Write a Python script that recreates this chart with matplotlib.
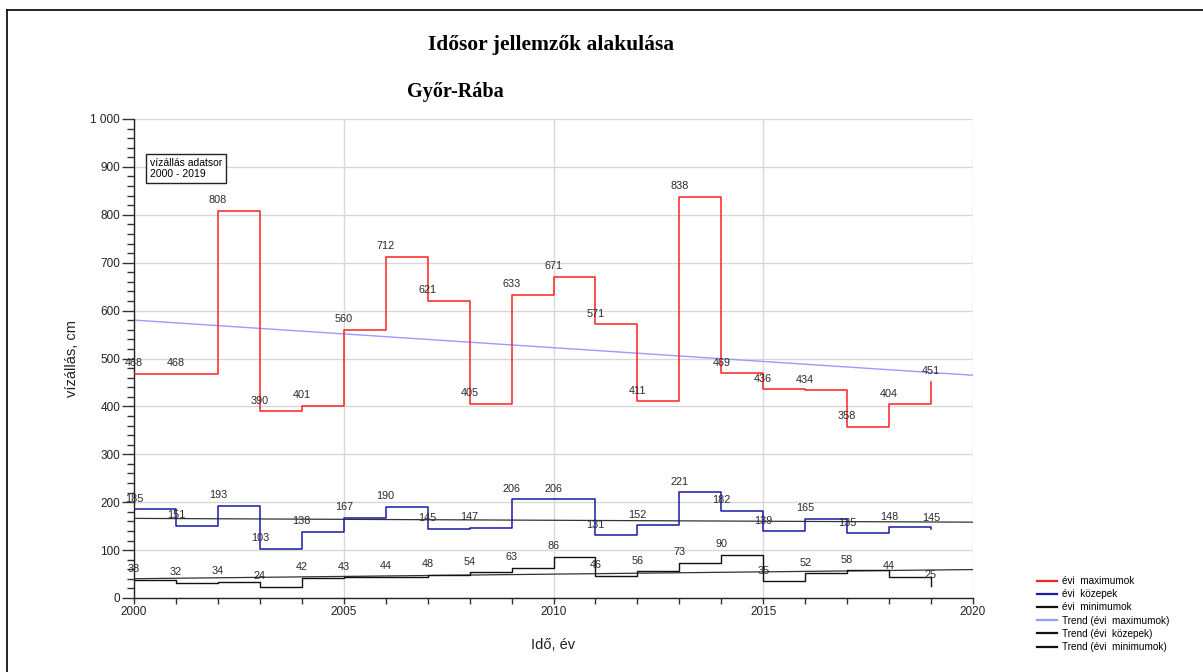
import numpy as np
import matplotlib
matplotlib.use('Agg')
import matplotlib.pyplot as plt
from matplotlib.ticker import MultipleLocator, FuncFormatter
from matplotlib.lines import Line2D

years = list(range(2000, 2020))
maximumok = [468, 468, 808, 390, 401, 560, 712, 621, 405, 633,
             671, 571, 411, 838, 469, 436, 434, 358, 404, 451]
kozepek = [185, 151, 193, 103, 138, 167, 190, 145, 147, 206,
           206, 131, 152, 221, 182, 139, 165, 135, 148, 145]
minimumok = [38, 32, 34, 24, 42, 43, 44, 48, 54, 63,
             86, 46, 56, 73, 90, 35, 52, 58, 44, 25]

plt.rcParams['font.family'] = ['Liberation Sans', 'DejaVu Sans']

fig = plt.figure(figsize=(12.03, 6.72), dpi=100)
W, H = 1203, 672
ax = fig.add_axes([134 / W, 1 - 598 / H, (973 - 134) / W, (598 - 119) / H])

x = np.array(years)
trend_x = np.array([2000, 2020])

def trend(vals):
    k, b = np.polyfit(x, vals, 1)
    return k * trend_x + b

c_max = '#ff2020'
c_koz = '#1a1aa6'
c_min = '#111111'
c_tmax = '#9a9aff'

ax.step(x, maximumok, where='post', color=c_max, lw=1.1, zorder=3)
ax.step(x, kozepek, where='post', color=c_koz, lw=1.1, zorder=3)
ax.step(x, minimumok, where='post', color=c_min, lw=1.0, zorder=3)
ax.plot(trend_x, trend(maximumok), color=c_tmax, lw=1.0, zorder=2)
ax.plot(trend_x, trend(kozepek), color='#333333', lw=0.9, zorder=2)
ax.plot(trend_x, trend(minimumok), color='#333333', lw=0.9, zorder=2)

for series in (maximumok, kozepek, minimumok):
    for yr, v in zip(years, series):
        ax.annotate(str(v), (yr, v), xytext=(0, 4), textcoords='offset points',
                    ha='center', va='bottom', fontsize=7.8, color='#2a2a2a',
                    zorder=4)

ax.set_xlim(2000, 2020)
ax.set_ylim(0, 1000)
ax.xaxis.set_major_locator(MultipleLocator(5))
ax.xaxis.set_minor_locator(MultipleLocator(1))
ax.yaxis.set_major_locator(MultipleLocator(100))
ax.yaxis.set_minor_locator(MultipleLocator(20))
ax.yaxis.set_major_formatter(FuncFormatter(
    lambda v, p: f'{int(v):,}'.replace(',', ' ')))

ax.grid(True, which='major', color='#d8d8d8', lw=1.0, zorder=0)
ax.set_axisbelow(True)
for s in ('top', 'right'):
    ax.spines[s].set_visible(False)
for s in ('left', 'bottom'):
    ax.spines[s].set_color('#222222')
    ax.spines[s].set_linewidth(1.0)

ax.tick_params(axis='y', which='major', length=9, width=1, color='#333333',
               labelsize=8.5, labelcolor='#222222', pad=1)
ax.tick_params(axis='y', which='minor', length=5, width=1, color='#333333')
ax.tick_params(axis='x', which='both', length=4, width=1, color='#333333',
               labelsize=8.5, labelcolor='#222222', pad=2)

ax.set_xlabel('Idő, év', fontsize=10.5, color='#222222', labelpad=14)
ax.set_ylabel('vízállás, cm', fontsize=10.5, color='#222222', labelpad=8)

fig.text(551 / W, 1 - 45 / H, 'Idősor jellemzők alakulása',
         family='Liberation Serif', fontweight='bold', fontsize=15.5,
         ha='center', va='center')
fig.text(455 / W, 1 - 92 / H, 'Győr-Rába',
         family='Liberation Serif', fontweight='bold', fontsize=14.5,
         ha='center', va='center')

ax.text(0.019, 0.918, 'vízállás adatsor\n2000 - 2019', transform=ax.transAxes,
        fontsize=7.5, va='top', ha='left', linespacing=1.05,
        bbox=dict(boxstyle='square,pad=0.4', fc='white', ec='#222222', lw=1))

# frame lines along the top and left edge of the figure
fig.add_artist(Line2D([7 / W, 1], [1 - 10 / H, 1 - 10 / H],
                      transform=fig.transFigure, color='black', lw=1.2))
fig.add_artist(Line2D([7 / W, 7 / W], [0, 1 - 10 / H],
                      transform=fig.transFigure, color='black', lw=1.2))

handles = [Line2D([], [], color=c, lw=1.6) for c in
           (c_max, c_koz, c_min, c_tmax, c_min, c_min)]
labels = ['évi  maximumok', 'évi  közepek', 'évi  minimumok',
          'Trend (évi  maximumok)', 'Trend (évi  közepek)',
          'Trend (évi  minimumok)']
fig.legend(handles, labels, loc='upper left',
           bbox_to_anchor=(1037 / W, 1 - 576 / H), frameon=False,
           fontsize=7.2, handlelength=2.0, handletextpad=0.5,
           labelspacing=0.32, borderaxespad=0, borderpad=0)

fig.savefig('out.png', dpi=100)
